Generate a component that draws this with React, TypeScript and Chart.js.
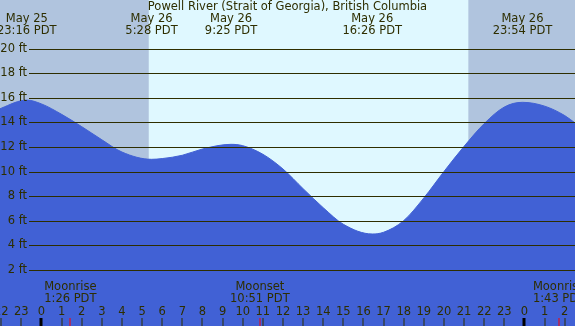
import React, { useEffect, useRef } from "react";
import { Chart, registerables } from "chart.js";

Chart.register(...registerables);

const chartTitle = "Powell River (Strait of Georgia), British Columbia";

// tide heights (ft) at hours since May 26 00:00 PDT
const sampleHours = [-2.1, -2, 0, 1, 2, 3, 4, 6, 7, 8, 10, 11, 12, 13, 14, 15, 17, 18, 19, 20, 21, 22, 23, 25, 26, 26.55];
const sampleFeet = [15.12, 15.2, 15.55, 14.7, 13.7, 12.63, 11.63, 11.1, 11.37, 11.88, 12.15, 11.45, 10.25, 8.65, 7.1, 5.75, 5.1, 6.05, 7.9, 10.05, 12.1, 13.95, 15.3, 15.37, 14.6, 13.95];

// tide extremes
const extremeHours = [-0.733, 5.467, 9.417, 16.433, 23.9];
const extremeFeet = [15.86, 11.04, 12.26, 4.96, 15.68];
const extremeDates = ["May 25", "May 26", "May 26", "May 26", "May 26"];
const extremeTimes = ["23:16 PDT", "5:28 PDT", "9:25 PDT", "16:26 PDT", "23:54 PDT"];

// moon events
const moonHours = [1.433, 10.85, 25.717];
const moonEvents = ["Moonrise", "Moonset", "Moonrise"];
const moonTimes = ["1:26 PDT", "10:51 PDT", "1:43 PDT"];

// daylight
const sunriseHour = 5.33;
const sunsetHour = 21.21;

const gridFeet = [2, 4, 6, 8, 10, 12, 14, 16, 18, 20];
const hourTicks = [-2, -1, 0, 1, 2, 3, 4, 5, 6, 7, 8, 9, 10, 11, 12, 13, 14, 15, 16, 17, 18, 19, 20, 21, 22, 23, 24, 25, 26];

const X_MIN = -2.062;
const X_MAX = 26.51;
const Y_MIN = -2.53;
const Y_MAX = 24.01;

const NIGHT = "#b0c4de";
const DAY = "#dff8ff";
const WATER = "#4161d5";
const INK = "#2e2e00";
const FONT = "11.5px 'DejaVu Sans'";

export default function App() {
  const ref = useRef<HTMLCanvasElement | null>(null);

  useEffect(() => {
    document.body.style.margin = "0";
    const canvas = ref.current;
    if (!canvas) return;

    const pts: { x: number; y: number }[] = [];
    sampleHours.forEach((h, i) => pts.push({ x: h, y: sampleFeet[i] }));
    extremeHours.forEach((h, i) => pts.push({ x: h, y: extremeFeet[i] }));
    pts.sort((a, b) => a.x - b.x);

    const decor = {
      id: "tideDecor",
      beforeDraw(chart: any) {
        const { ctx, scales } = chart;
        const xs = scales.x;
        const W = chart.width;
        const H = chart.height;
        ctx.save();
        ctx.fillStyle = NIGHT;
        ctx.fillRect(0, 0, W, H);
        const a = xs.getPixelForValue(sunriseHour);
        const b = xs.getPixelForValue(sunsetHour);
        ctx.fillStyle = DAY;
        ctx.fillRect(a, 0, b - a, H);
        ctx.restore();
      },
      afterDatasetsDraw(chart: any) {
        const { ctx, scales } = chart;
        const xs = scales.x;
        const ys = scales.y;
        const W = chart.width;
        const H = chart.height;
        ctx.save();
        ctx.strokeStyle = INK;
        ctx.lineWidth = 1;
        ctx.font = FONT;
        ctx.fillStyle = INK;
        ctx.textAlign = "right";
        ctx.textBaseline = "middle";
        gridFeet.forEach((f) => {
          const y = Math.floor(ys.getPixelForValue(f)) + 0.5;
          ctx.beginPath();
          ctx.moveTo(29, y);
          ctx.lineTo(W, y);
          ctx.stroke();
          ctx.fillText(f + " ft", 27, y);
        });
        ctx.textAlign = "center";
        ctx.fillText(chartTitle, W / 2, 7);
        extremeHours.forEach((h, i) => {
          const x = xs.getPixelForValue(h);
          ctx.fillText(extremeDates[i], x, 19.5);
          ctx.fillText(extremeTimes[i], x, 31.5);
        });
        moonHours.forEach((h, i) => {
          const x = xs.getPixelForValue(h);
          ctx.fillText(moonEvents[i], x, 287.5);
          ctx.fillText(moonTimes[i], x, 299.5);
        });
        hourTicks.forEach((h) => {
          const x = xs.getPixelForValue(h);
          const lab = String(((h % 24) + 24) % 24);
          ctx.fillStyle = INK;
          ctx.fillText(lab, x, 312);
          const px = Math.round(x);
          if (h % 24 === 0) {
            ctx.fillStyle = "#000000";
            ctx.fillRect(px - 1.5, 318, 3, H - 318);
          } else {
            ctx.fillStyle = INK;
            ctx.fillRect(px - 0.5, 318, 1, H - 318);
          }
        });
        ctx.fillStyle = "#ff0000";
        moonHours.forEach((h) => {
          const px = Math.round(xs.getPixelForValue(h));
          ctx.fillRect(px - 0.5, 318, 1, H - 318);
        });
        ctx.restore();
      },
    };

    const chart = new Chart(canvas, {
      type: "line",
      data: {
        datasets: [
          {
            data: pts,
            fill: "start",
            backgroundColor: WATER,
            borderColor: WATER,
            borderWidth: 1,
            pointRadius: 0,
            cubicInterpolationMode: "monotone",
          },
        ],
      },
      options: {
        animation: false,
        responsive: false,
        devicePixelRatio: 1,
        layout: { padding: 0 },
        plugins: { legend: { display: false }, tooltip: { enabled: false }, title: { display: false } },
        scales: {
          x: { type: "linear", min: X_MIN, max: X_MAX, display: false },
          y: { type: "linear", min: Y_MIN, max: Y_MAX, display: false },
        },
      },
      plugins: [decor],
    } as any);

    return () => chart.destroy();
  }, []);

  return (
    <div style={{ width: 575, height: 326 }}>
      <canvas ref={ref} width={575} height={326} style={{ display: "block" }} />
    </div>
  );
}
